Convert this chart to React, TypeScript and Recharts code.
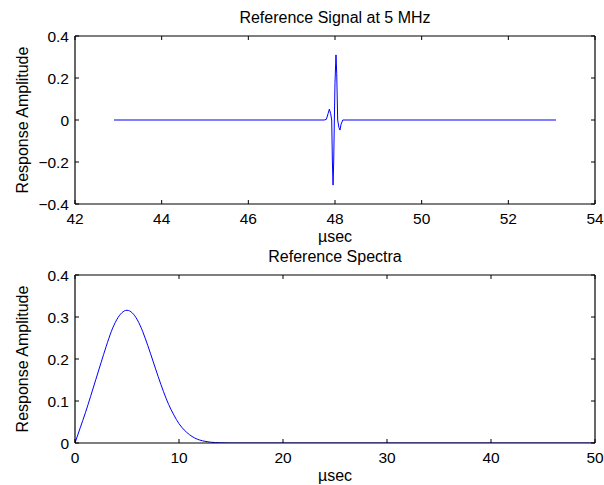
import { LineChart, Line, XAxis, YAxis, ReferenceLine } from "recharts";

// Reference signal (time in µsec, amplitude)
const signalTime = [
  42.9, 47.75, 47.8, 47.84, 47.87, 47.9, 47.924, 47.94, 47.955, 47.97, 47.985,
  48.0, 48.023, 48.04, 48.062, 48.09, 48.115, 48.14, 48.18, 53.1,
];
const signalAmp = [
  0, 0, 0.003, 0.03, 0.052, 0.03, 0, -0.2, -0.31, -0.2, 0, 0.18, 0.31, 0.22, 0,
  -0.035, -0.048, -0.02, 0, 0,
];
const signalXTicks = [42, 44, 46, 48, 50, 52, 54];
const signalYTicks = [-0.4, -0.2, 0, 0.2, 0.4];

// Reference spectra
const specFreq = [
  0, 0.5, 1, 1.5, 2, 2.5, 3, 3.5, 4, 4.5, 5, 5.5, 6, 6.5, 7, 7.5, 8, 8.5, 9, 9.5,
  10, 10.5, 11, 11.5, 12, 12.5, 13, 13.5, 14, 14.5, 15, 50,
];
const specAmp = [
  0, 0.036, 0.072, 0.111, 0.151, 0.191, 0.23, 0.266, 0.293, 0.31, 0.316, 0.31,
  0.293, 0.266, 0.232, 0.195, 0.158, 0.123, 0.092, 0.067, 0.046, 0.031, 0.02,
  0.012, 0.007, 0.004, 0.002, 0.001, 0.0005, 0.0002, 0, 0,
];
const specXTicks = [0, 10, 20, 30, 40, 50];
const specYTicks = [0, 0.1, 0.2, 0.3, 0.4];

const signalData = signalTime.map((t, i) => ({ t, v: signalAmp[i] }));
const specData = specFreq.map((t, i) => ({ t, v: specAmp[i] }));

const FONT = '"Liberation Sans", Arial, Helvetica, sans-serif';
const PLOT_W = 520;
const PLOT_H = 168;
const TICK = 4;

const fmt = (v: number) => (v < 0 ? "\u2212" + String(Math.abs(v)) : String(v));

function XTick(props: any) {
  const { x, y, payload } = props;
  return (
    <g>
      <line x1={x} x2={x} y1={y} y2={y - TICK} stroke="#000" />
      <line x1={x} x2={x} y1={y - PLOT_H} y2={y - PLOT_H + TICK} stroke="#000" />
      <text x={x} y={y + 19.5} textAnchor="middle" fontSize={15.5} fontFamily={FONT} fill="#000">
        {fmt(payload.value)}
      </text>
    </g>
  );
}

function YTick(props: any) {
  const { x, y, payload } = props;
  return (
    <g>
      <line x1={x} x2={x + TICK} y1={y} y2={y} stroke="#000" />
      <line x1={x + PLOT_W} x2={x + PLOT_W - TICK} y1={y} y2={y} stroke="#000" />
      <text x={x - 6} y={y + 5.5} textAnchor="end" fontSize={15.5} fontFamily={FONT} fill="#000">
        {fmt(payload.value)}
      </text>
    </g>
  );
}

const yLabel = (cy: number) => () => (
  <text
    x={28}
    y={cy}
    transform={`rotate(-90 28 ${cy})`}
    textAnchor="middle"
    fontSize={16}
    fontFamily={FONT}
    fill="#000"
  >
    Response Amplitude
  </text>
);

type PanelProps = {
  data: { t: number; v: number }[];
  height: number;
  top: number;
  xHeight: number;
  xDomain: [number, number];
  yDomain: [number, number];
  xTicks: number[];
  yTicks: number[];
  labelOffset: number;
  lineType: "linear" | "monotone";
};

function Panel(p: PanelProps) {
  return (
    <LineChart
      width={604}
      height={p.height}
      data={p.data}
      margin={{ top: p.top, right: 9, left: 0, bottom: 0 }}
    >
      <XAxis
        dataKey="t"
        type="number"
        domain={p.xDomain}
        ticks={p.xTicks}
        interval={0}
        height={p.xHeight}
        tickSize={0}
        tickMargin={0}
        tickLine={false}
        axisLine={{ stroke: "#000", strokeWidth: 1.2 }}
        tick={<XTick />}
        allowDataOverflow
        label={{
          value: "\u00b5sec",
          position: "insideBottom",
          offset: p.labelOffset,
          fill: "#000",
          fontSize: 16,
          fontFamily: FONT,
        }}
      />
      <YAxis
        type="number"
        domain={p.yDomain}
        ticks={p.yTicks}
        interval={0}
        width={75}
        tickSize={0}
        tickMargin={0}
        tickLine={false}
        axisLine={{ stroke: "#000", strokeWidth: 1.2 }}
        tick={<YTick />}
        allowDataOverflow
        label={yLabel(p.top + PLOT_H / 2)}
      />
      <ReferenceLine y={p.yDomain[1]} stroke="#000" strokeWidth={1.2} />
      <ReferenceLine x={p.xDomain[1]} stroke="#000" strokeWidth={1.2} />
      <Line
        dataKey="v"
        type={p.lineType}
        stroke="#0000ff"
        strokeWidth={1}
        dot={false}
        isAnimationActive={false}
      />
    </LineChart>
  );
}

const titleStyle: React.CSSProperties = {
  position: "absolute",
  left: 75,
  width: PLOT_W,
  textAlign: "center",
  fontFamily: FONT,
  fontSize: 16,
  lineHeight: "16px",
  color: "#000",
};

export default function App() {
  return (
    <div style={{ position: "absolute", left: 0, top: 0, width: 604, height: 485, background: "#fff" }}>
      <div style={{ position: "absolute", left: 0, top: 0 }}>
        <Panel
          data={signalData}
          height={250}
          top={36}
          xHeight={46}
          xDomain={[42, 54]}
          yDomain={[-0.4, 0.4]}
          xTicks={signalXTicks}
          yTicks={signalYTicks}
          labelOffset={8}
          lineType="linear"
        />
      </div>
      <div style={{ position: "absolute", left: 0, top: 250 }}>
        <Panel
          data={specData}
          height={235}
          top={25}
          xHeight={42}
          xDomain={[0, 50]}
          yDomain={[0, 0.4]}
          xTicks={specXTicks}
          yTicks={specYTicks}
          labelOffset={4.5}
          lineType="monotone"
        />
      </div>
      <div style={{ ...titleStyle, top: 9.75 }}>Reference Signal at 5 MHz</div>
      <div style={{ ...titleStyle, top: 249.2 }}>Reference Spectra</div>
    </div>
  );
}
